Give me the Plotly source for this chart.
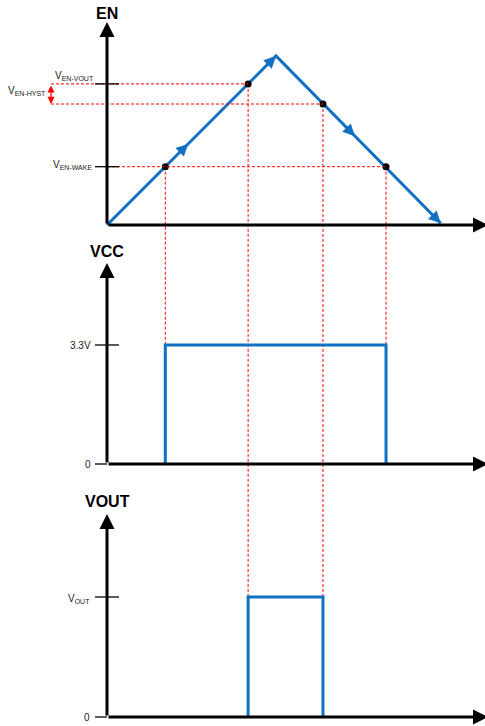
import plotly.graph_objects as go

# ---------------- data ----------------
# EN ramp (time units, EN units)
en_t = [0.0, 10.0, 19.75]
en_v = [0.0, 10.0, 0.1]
# thresholds
EN_WAKE = 3.45
EN_VOUT_ON = 8.35
EN_VOUT_OFF = 7.16
# event times
t_wake_on = 3.45
t_vout_on = 8.35
t_vout_off = 12.78
t_wake_off = 16.51
# direction arrows on the EN ramp (tip times)
en_arrow_t = [4.8, 10.0, 14.67, 19.75]
# VCC and VOUT levels
VCC_HIGH = 3.3
VOUT_HIGH = 1.0
vcc_t = [t_wake_on, t_wake_on, t_wake_off, t_wake_off]
vcc_v = [0.0, VCC_HIGH, VCC_HIGH, 0.0]
vout_t = [t_vout_on, t_vout_on, t_vout_off, t_vout_off]
vout_v = [0.0, VOUT_HIGH, VOUT_HIGH, 0.0]
# threshold crossing dots on EN
dot_t = [t_wake_on, t_vout_on, t_vout_off, t_wake_off]
dot_v = [EN_WAKE, EN_VOUT_ON, EN_VOUT_OFF, EN_WAKE]
# labels
panel_titles = ["<b>EN</b>", "<b>VCC</b>", "<b>VOUT</b>"]
en_tick_labels = ["V<sub>EN-VOUT</sub>", "V<sub>EN-WAKE</sub>"]
hyst_label = "V<sub>EN-HYST</sub>"
vcc_tick_labels = ["3.3V", "0"]
vout_tick_labels = ["V<sub>OUT</sub>", "0"]

# ---------------- layout constants ----------------
FIG_W, FIG_H = 485, 726
X0_PX, PX_PER_T = 107, 16.9
PANELS = {  # base pixel, pixels per unit, axis-top pixel
    "y": (225, 16.9, 22),
    "y2": (464, 119 / 3.3, 263),
    "y3": (717, 120.0, 514),
}
BLUE = "#1170C4"
RED = "#FF0000"
FONT = "Liberation Sans, Arial, sans-serif"

x_range = [-X0_PX / PX_PER_T, (FIG_W - X0_PX) / PX_PER_T]
T_END = (FIG_W + 3 - X0_PX) / PX_PER_T
TICK_L = 12 / PX_PER_T
TICK_R = 12 / PX_PER_T
HYST_T = (51 - X0_PX) / PX_PER_T


def yrange(name):
    base, ppu, _ = PANELS[name]
    return [-(FIG_H - base) / ppu, base / ppu]


def ytop(name):
    base, ppu, top = PANELS[name]
    return (base - top) / ppu


def to_paper(name, v):
    r0, r1 = yrange(name)
    return (v - r0) / (r1 - r0)


fig = go.Figure()

# EN ramp
fig.add_trace(go.Scatter(x=en_t, y=en_v, mode="lines", yaxis="y",
                         line=dict(color=BLUE, width=3), hoverinfo="skip"))
# VCC pulse
fig.add_trace(go.Scatter(x=vcc_t, y=vcc_v, mode="lines", yaxis="y2",
                         line=dict(color=BLUE, width=3), hoverinfo="skip"))
# VOUT pulse
fig.add_trace(go.Scatter(x=vout_t, y=vout_v, mode="lines", yaxis="y3",
                         line=dict(color=BLUE, width=3), hoverinfo="skip"))
# dots
fig.add_trace(go.Scatter(x=dot_t, y=dot_v, mode="markers", yaxis="y",
                         marker=dict(color="black", size=7), hoverinfo="skip"))

# horizontal red dashed lines in EN panel
dash = "3px,2px"
hlines = [(HYST_T, t_vout_on, EN_VOUT_ON),
          (HYST_T, t_vout_off, EN_VOUT_OFF),
          (0.0, t_wake_off, EN_WAKE)]
for x0, x1, yv in hlines:
    fig.add_trace(go.Scatter(x=[x0, x1], y=[yv, yv], mode="lines", yaxis="y",
                             line=dict(color=RED, width=1, dash=dash),
                             hoverinfo="skip"))

# vertical red dashed lines spanning panels
vlines = [(t_wake_on, "y", EN_WAKE, "y2", VCC_HIGH),
          (t_wake_off, "y", EN_WAKE, "y2", VCC_HIGH),
          (t_vout_on, "y", EN_VOUT_ON, "y3", VOUT_HIGH),
          (t_vout_off, "y", EN_VOUT_OFF, "y3", VOUT_HIGH)]
for tx, ya, va, yb, vb in vlines:
    fig.add_shape(type="line", xref="x", yref="paper", x0=tx, x1=tx,
                  y0=to_paper(ya, va), y1=to_paper(yb, vb), layer="below",
                  line=dict(color=RED, width=1, dash=dash))

annotations = []

# axes with arrows
for name in ["y", "y2", "y3"]:
    annotations.append(dict(x=0, y=ytop(name), ax=0, ay=0, xref="x", yref=name,
                            axref="x", ayref=name, text="", showarrow=True,
                            arrowhead=2, arrowsize=1, arrowwidth=3,
                            arrowcolor="black"))
    annotations.append(dict(x=T_END, y=0, ax=0, ay=0, xref="x", yref=name,
                            axref="x", ayref=name, text="", showarrow=True,
                            arrowhead=2, arrowsize=1, arrowwidth=3,
                            arrowcolor="black"))

# panel titles
for name, title, ys in zip(["y", "y2", "y3"], panel_titles, [9, 12, 13]):
    annotations.append(dict(x=0, y=ytop(name), xref="x", yref=name, text=title,
                            showarrow=False, yshift=ys, yanchor="middle",
                            font=dict(family=FONT, size=16, color="black")))

# direction arrows on EN ramp
peak_t = en_t[1]
for ta in en_arrow_t:
    if ta <= peak_t:
        ya = ta * en_v[1] / en_t[1]
        back = ta - 0.6
        yb = back * en_v[1] / en_t[1]
    else:
        slope = (en_v[2] - en_v[1]) / (en_t[2] - en_t[1])
        ya = en_v[1] + slope * (ta - peak_t)
        back = ta - 0.6
        yb = en_v[1] + slope * (back - peak_t)
    annotations.append(dict(x=ta, y=ya, ax=back, ay=yb, xref="x", yref="y",
                            axref="x", ayref="y", text="", showarrow=True,
                            arrowhead=2, arrowsize=0.8, arrowwidth=3,
                            arrowcolor=BLUE))

# hysteresis double arrow
annotations.append(dict(x=HYST_T, y=EN_VOUT_OFF, ax=HYST_T, ay=EN_VOUT_ON,
                        xref="x", yref="y", axref="x", ayref="y", text="",
                        showarrow=True, arrowhead=2, startarrowhead=2,
                        arrowside="end+start", arrowsize=1.1,
                        startarrowsize=1.1, arrowwidth=1.3, arrowcolor=RED))

small = dict(family=FONT, size=10, color="#222222")

# EN tick labels
annotations.append(dict(x=-TICK_L, y=EN_VOUT_ON, xref="x", yref="y",
                        text=en_tick_labels[0], showarrow=False,
                        xanchor="right", yanchor="middle", xshift=1, yshift=8,
                        font=small))
annotations.append(dict(x=-TICK_L, y=EN_WAKE, xref="x", yref="y",
                        text=en_tick_labels[1], showarrow=False,
                        xanchor="right", yanchor="middle", xshift=-1, yshift=2,
                        font=small))
annotations.append(dict(x=HYST_T, y=(EN_VOUT_ON + EN_VOUT_OFF) / 2, xref="x",
                        yref="y", text=hyst_label, showarrow=False,
                        xanchor="right", yanchor="middle", xshift=-3, yshift=3,
                        font=small))
# VCC tick labels
for v, lab in zip([VCC_HIGH, 0.0], vcc_tick_labels):
    annotations.append(dict(x=-TICK_L, y=v, xref="x", yref="y2", text=lab,
                            showarrow=False, xanchor="right", yanchor="middle",
                            xshift=-2, font=small))
# VOUT tick labels
for v, lab, ys in zip([VOUT_HIGH, 0.0], vout_tick_labels, [-2, 0]):
    annotations.append(dict(x=-TICK_L, y=v, xref="x", yref="y3", text=lab,
                            showarrow=False, xanchor="right", yanchor="middle",
                            xshift=-3, yshift=ys, font=small))

# tick marks
ticks = [("y", EN_VOUT_ON, TICK_R), ("y", EN_WAKE, TICK_R),
         ("y2", VCC_HIGH, TICK_R), ("y2", 0.0, 0.0),
         ("y3", VOUT_HIGH, TICK_R), ("y3", 0.0, 0.0)]
for name, v, right in ticks:
    fig.add_trace(go.Scatter(x=[-TICK_L, right], y=[v, v], mode="lines",
                             yaxis=name, line=dict(color="black", width=1.3),
                             hoverinfo="skip"))

hidden = dict(visible=False, fixedrange=True)
fig.update_layout(
    width=FIG_W, height=FIG_H,
    margin=dict(l=0, r=0, t=0, b=0),
    paper_bgcolor="white", plot_bgcolor="white",
    showlegend=False,
    xaxis=dict(range=x_range, domain=[0, 1], **hidden),
    yaxis=dict(range=yrange("y"), domain=[0, 1], **hidden),
    yaxis2=dict(range=yrange("y2"), overlaying="y", **hidden),
    yaxis3=dict(range=yrange("y3"), overlaying="y", **hidden),
    annotations=annotations,
)

fig.write_html("out.html", config={"displayModeBar": False},
               post_script="document.body.style.margin='0';"
                           "document.body.style.overflow='hidden';")
